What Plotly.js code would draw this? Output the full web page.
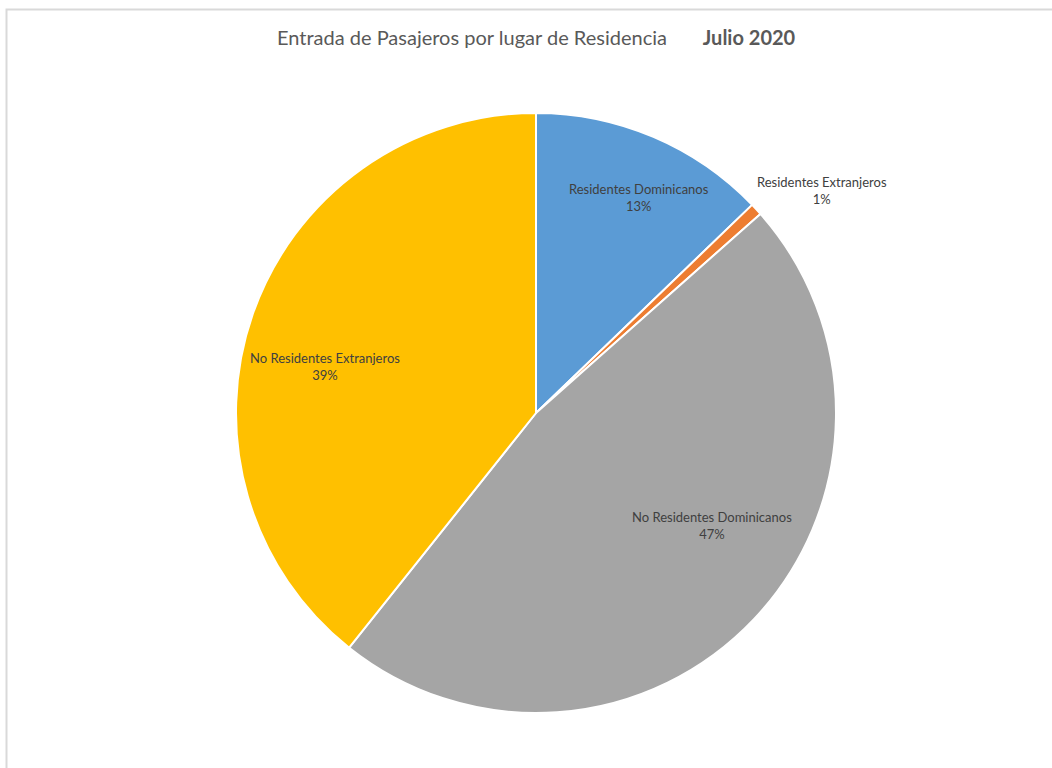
<!DOCTYPE html>
<html>
<head>
<meta charset="utf-8">
<script src="https://cdn.plot.ly/plotly-3.0.1.min.js"></script>
<style>
  html, body { margin: 0; padding: 0; background: #fff; overflow: hidden; }
  #chart { width: 1052px; height: 768px; }
</style>
</head>
<body>
<div id="chart"></div>
<script>
const categories = ["Residentes Dominicanos", "Residentes Extranjeros", "No Residentes Dominicanos", "No Residentes Extranjeros"];
const values = [12.8, 0.65, 47.25, 39.3];
const colors = ["#5B9BD5", "#ED7D31", "#A5A5A5", "#FFC000"];
const titleMain = "Entrada de Pasajeros por lugar de Residencia";
const titlePeriod = "Julio 2020";

const W = 1052, H = 768;
const FONT = "Lato, 'Open Sans', sans-serif";

// label anchor positions (pixel layout, centre of each label block)
const labelPos = [[639, 197], [822, 190], [712, 525], [325, 367]];

const total = values.reduce((a, b) => a + b, 0);

const trace = {
  type: "pie",
  labels: categories,
  values: values,
  sort: false,
  direction: "clockwise",
  rotation: 0,
  marker: { colors: colors, line: { color: "#ffffff", width: 2 } },
  textinfo: "none",
  automargin: false,
  hoverinfo: "label+percent",
  showlegend: false,
  domain: { x: [236 / W, 836 / W], y: [1 - 713 / H, 1 - 113 / H] }
};

const annotations = [{
  xref: "paper", yref: "paper",
  x: 536 / W, y: 1 - 37 / H,
  xanchor: "center", yanchor: "middle",
  showarrow: false,
  text: titleMain + "&nbsp;&nbsp;&nbsp;&nbsp;&nbsp;&nbsp;&nbsp;<b>" + titlePeriod + "</b>",
  font: { family: FONT, size: 20, color: "#595959" }
}];

categories.forEach((c, i) => {
  annotations.push({
    xref: "paper", yref: "paper",
    x: labelPos[i][0] / W, y: 1 - labelPos[i][1] / H,
    xanchor: "center", yanchor: "middle",
    showarrow: false,
    align: "center",
    text: c + "<br>" + Math.round(values[i] / total * 100) + "%",
    font: { family: FONT, size: 13, color: "#404040" }
  });
});

const layout = {
  width: W, height: H,
  margin: { l: 0, r: 0, t: 0, b: 0 },
  paper_bgcolor: "#ffffff",
  showlegend: false,
  annotations: annotations,
  shapes: [{
    type: "rect", xref: "paper", yref: "paper",
    x0: 6.5 / W, y0: 1 - 9.5 / H, x1: 1.2, y1: -0.2,
    line: { color: "#d9d9d9", width: 2 }, fillcolor: "rgba(0,0,0,0)"
  }]
};

Plotly.newPlot("chart", [trace], layout, { displayModeBar: false, staticPlot: true });
</script>
</body>
</html>
